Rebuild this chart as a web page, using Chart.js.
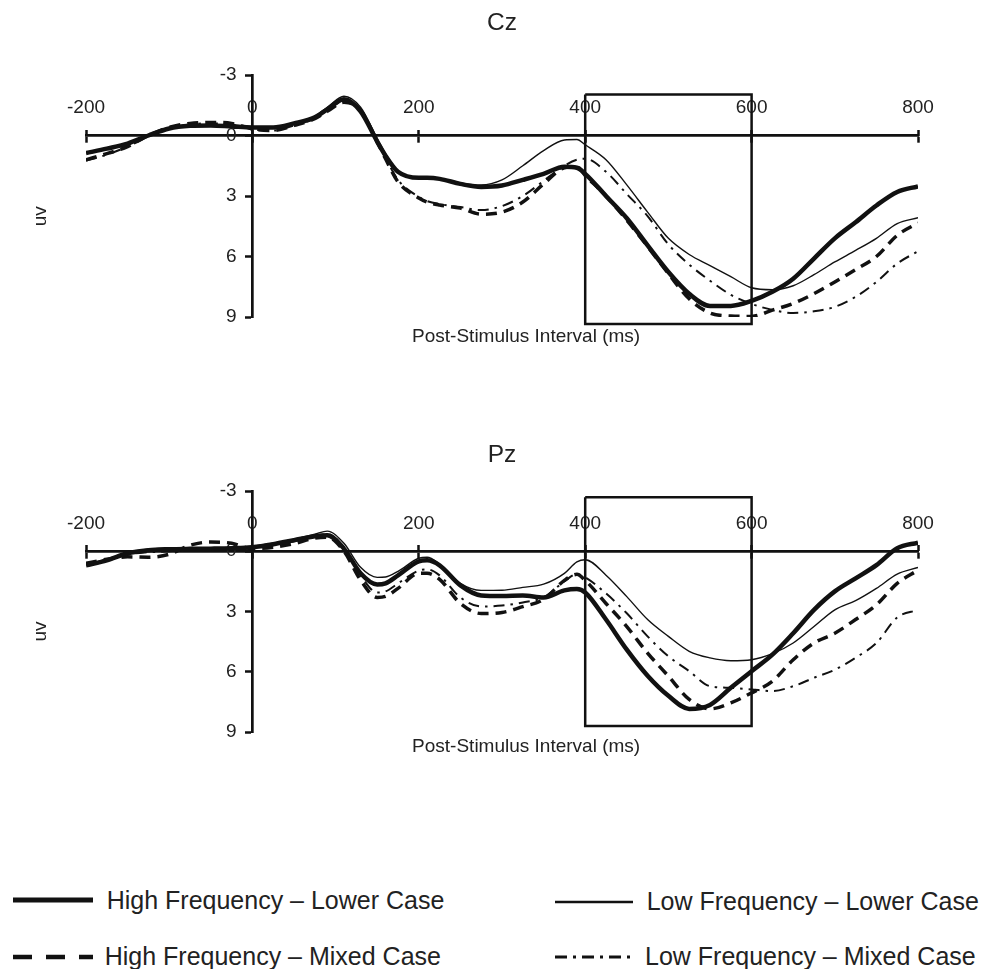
<!DOCTYPE html>
<html>
<head>
<meta charset="utf-8">
<title>Cz / Pz waveforms</title>
<script src="https://cdn.jsdelivr.net/npm/chart.js@4.4.1/dist/chart.umd.min.js"></script>
<style>
  html, body { margin: 0; padding: 0; background: #fff; }
  body { width: 995px; height: 969px; position: relative; overflow: hidden;
         font-family: "Liberation Sans", Arial, Helvetica, sans-serif; color: #222; }
  canvas { position: absolute; left: 31px; }
  #czChart { top: 0; }
  #pzChart { top: 416px; }
  .key { position: absolute; display: flex; align-items: center; font-size: 25px; line-height: 1; white-space: nowrap; }
  .key svg { display: block; }
</style>
</head>
<body>
<canvas id="czChart" width="964" height="360"></canvas>
<canvas id="pzChart" width="964" height="360"></canvas>
<div id="legend"></div>

<script>
// ===== data (ms / uV) =====
const times = [-200, -175, -150, -125, -100, -75, -50, -25, 0, 25, 50, 75,
  90, 110, 130, 150, 160, 175,
  200, 210, 225, 250, 275, 300, 325, 350, 375, 390, 400,
  425, 450, 475, 500, 525, 550, 575, 600, 625, 650, 675, 700, 725, 750, 775, 800];

const seriesNames = ['High Frequency – Lower Case', 'Low Frequency – Lower Case',
  'High Frequency – Mixed Case', 'Low Frequency – Mixed Case'];

// Cz
const czHighLower = [0.87, 0.65, 0.4, 0.0, -0.35, -0.48, -0.5, -0.45, -0.4, -0.4, -0.6, -0.9,
  -1.3, -1.8, -1.2, 0.3, 1.0, 1.8,
  2.1, 2.1, 2.15, 2.4, 2.55, 2.48, 2.2, 1.9, 1.55, 1.6, 1.9,
  3.0, 4.1, 5.45, 6.77, 7.85, 8.45, 8.45, 8.2, 7.75, 7.1, 6.1, 5.1, 4.3, 3.47, 2.8, 2.52];
const czLowLower = [0.85, 0.62, 0.38, 0.0, -0.35, -0.48, -0.5, -0.45, -0.4, -0.4, -0.62, -0.95,
  -1.4, -1.95, -1.4, 0.15, 0.9, 1.75,
  2.1, 2.1, 2.15, 2.35, 2.45, 2.2, 1.5, 0.75, 0.22, 0.2, 0.46,
  1.2, 2.45, 3.8, 5.1, 5.9, 6.45, 7.0, 7.55, 7.65, 7.45, 6.9, 6.27, 5.7, 5.1, 4.37, 4.08];
const czHighMixed = [1.2, 0.9, 0.55, 0.0, -0.4, -0.6, -0.65, -0.6, -0.33, -0.25, -0.5, -0.83,
  -1.2, -1.65, -1.25, 0.33, 1.15, 2.3,
  3.1, 3.3, 3.45, 3.6, 3.9, 3.8, 3.3, 2.4, 1.6, 1.55, 1.98,
  3.0, 4.2, 5.5, 6.85, 8.1, 8.8, 8.95, 8.97, 8.66, 8.33, 7.84, 7.26, 6.65, 6.0, 4.95, 4.34];
const czLowMixed = [1.25, 0.95, 0.55, 0.05, -0.35, -0.55, -0.6, -0.55, -0.3, -0.25, -0.5, -0.85,
  -1.25, -1.7, -1.3, 0.3, 1.1, 2.2,
  3.05, 3.25, 3.4, 3.55, 3.7, 3.5, 3.0, 2.25, 1.5, 1.2, 1.15,
  1.8, 2.9, 4.0, 5.4, 6.4, 7.2, 7.9, 8.35, 8.65, 8.8, 8.72, 8.5, 8.0, 7.26, 6.35, 5.74];

// Pz
const pzHighLower = [0.7, 0.45, 0.1, -0.05, -0.1, -0.12, -0.13, -0.15, -0.2, -0.35, -0.55, -0.75,
  -0.8, -0.13, 1.1, 1.66, 1.6, 1.2,
  0.5, 0.45, 0.7, 1.7, 2.2, 2.23, 2.2, 2.3, 1.95, 1.88, 2.05,
  3.4, 4.9, 6.2, 7.2, 7.85, 7.65, 6.8, 5.97, 5.15, 4.08, 2.92, 2.0, 1.35, 0.69, -0.15, -0.43];
const pzLowLower = [0.65, 0.4, 0.05, -0.1, -0.15, -0.15, -0.15, -0.18, -0.25, -0.4, -0.6, -0.85,
  -1.0, -0.4, 0.8, 1.3, 1.28, 1.0,
  0.35, 0.3, 0.65, 1.6, 1.95, 1.94, 1.8, 1.64, 1.1, 0.53, 0.42,
  1.19, 2.26, 3.4, 4.24, 4.98, 5.31, 5.45, 5.4, 5.1, 4.57, 3.75, 2.92, 2.46, 1.85, 1.14, 0.81];
const pzHighMixed = [0.6, 0.4, 0.28, 0.3, 0.15, -0.3, -0.46, -0.4, -0.13, -0.2, -0.38, -0.65,
  -0.7, 0.0, 1.43, 2.3, 2.25, 1.85,
  1.1, 1.1, 1.4, 2.6, 3.1, 3.05, 2.76, 2.4, 1.45, 1.15, 1.45,
  2.6, 3.75, 5.07, 6.22, 7.38, 7.85, 7.55, 7.05, 6.47, 5.4, 4.57, 4.08, 3.4, 2.67, 1.6, 0.94];
const pzLowMixed = [0.65, 0.4, 0.15, 0.05, 0.0, -0.1, -0.15, -0.15, -0.15, -0.3, -0.5, -0.75,
  -0.85, -0.2, 1.2, 2.05, 2.0, 1.6,
  0.96, 0.9, 1.2, 2.3, 2.75, 2.7, 2.55, 2.3, 1.5, 1.14, 1.3,
  2.1, 3.09, 4.24, 5.23, 5.97, 6.72, 6.8, 6.88, 6.96, 6.72, 6.3, 5.9, 5.3, 4.57, 3.3, 2.92];

// analysis window (ms) and the extent of its frame (uV)
const windowMs = [400, 600];
const czWindowUv = [-2.03, 9.35];
const pzWindowUv = [-2.69, 8.7];

// axes
const xRange = [-200, 800];
const xStep = 200;
const yRange = [-3, 9];
const yStep = 3;

// ===== styles =====
const INK = '#111';
const FONT = '"Liberation Sans", Arial, Helvetica, sans-serif';
const lineStyles = [
  { width: 4.5, dash: [] },
  { width: 1.4, dash: [] },
  { width: 3.5, dash: [11, 7] },
  { width: 2, dash: [11, 6, 2.5, 6] }
];

// axis captions drawn against the chart's own scales
const axisCaptions = {
  id: 'axisCaptions',
  afterDraw(chart, args, o) {
    const { ctx, chartArea, scales } = chart;
    ctx.save();
    ctx.fillStyle = '#222';
    ctx.font = '19px ' + FONT;
    ctx.textAlign = 'center';
    ctx.textBaseline = 'middle';
    ctx.fillText(o.xText, scales.x.getPixelForValue(o.xAt[0]), scales.y.getPixelForValue(o.xAt[1]));
    ctx.translate(chartArea.left - 45, scales.y.getPixelForValue(o.yAt));
    ctx.rotate(-Math.PI / 2);
    ctx.fillText(o.yText, 0, 0);
    ctx.restore();
  }
};

function buildPanel(canvasId, title, series, frame, titlePad, captionAt, bottomPad) {
  const datasets = series.map((values, i) => ({
    label: seriesNames[i],
    data: times.map((t, k) => ({ x: t, y: values[k] })),
    borderColor: INK,
    borderWidth: lineStyles[i].width,
    borderDash: lineStyles[i].dash,
    pointRadius: 0,
    cubicInterpolationMode: 'monotone',
    fill: false
  }));
  // the 400-600 ms frame
  datasets.push({
    label: 'window',
    data: [
      { x: windowMs[0], y: frame[0] }, { x: windowMs[1], y: frame[0] },
      { x: windowMs[1], y: frame[1] }, { x: windowMs[0], y: frame[1] },
      { x: windowMs[0], y: frame[0] }
    ],
    borderColor: INK,
    borderWidth: 2.5,
    borderJoinStyle: 'miter',
    pointRadius: 0,
    tension: 0,
    clip: false,
    fill: false
  });

  return new Chart(document.getElementById(canvasId), {
    type: 'line',
    data: { datasets },
    plugins: [axisCaptions],
    options: {
      responsive: false,
      animation: false,
      events: [],
      layout: { padding: { left: 55, right: 77, top: 0, bottom: bottomPad } },
      scales: {
        x: {
          type: 'linear', min: xRange[0], max: xRange[1],
          position: { y: 0 },
          ticks: { stepSize: xStep, padding: -44.8, color: '#222', font: { family: FONT, size: 19 }, maxRotation: 0, autoSkip: false },
          grid: { drawOnChartArea: false, tickLength: 6, tickWidth: 2.5, tickColor: INK },
          border: { color: INK, width: 2.7 }
        },
        x2: {
          type: 'linear', min: xRange[0], max: xRange[1],
          position: { y: 0 },
          ticks: { stepSize: xStep, display: false },
          grid: { drawOnChartArea: false, tickLength: -6, tickWidth: 2.5, tickColor: INK },
          border: { display: false }
        },
        y: {
          type: 'linear', min: yRange[0], max: yRange[1], reverse: true,
          position: { x: 0 },
          ticks: { stepSize: yStep, color: '#222', font: { family: FONT, size: 19 }, callback: v => v + '   ' },
          grid: { drawOnChartArea: false, tickLength: 6, tickWidth: 2.5, tickColor: INK },
          border: { color: INK, width: 2.7 }
        }
      },
      plugins: {
        legend: { display: false },
        tooltip: { enabled: false },
        title: {
          display: true, text: title, color: '#222',
          font: { family: FONT, size: 24.5, weight: 'normal' },
          padding: titlePad
        },
        axisCaptions: { xText: 'Post-Stimulus Interval (ms)', xAt: captionAt, yText: 'uv', yAt: 4 }
      }
    }
  });
}

buildPanel('czChart', 'Cz', [czHighLower, czLowLower, czHighMixed, czLowMixed], czWindowUv,
  { top: 8.8, bottom: 36.8 }, [329, 9.97], 43);
buildPanel('pzChart', 'Pz', [pzHighLower, pzLowLower, pzHighMixed, pzLowMixed], pzWindowUv,
  { top: 24.3, bottom: 21.3 }, [329, 9.74], 44);

// ===== legend (two columns, two rows) =====
const legendSlots = [
  { left: 12.7, top: 887.5, w: 80, gap: 14 },
  { left: 555, top: 889, w: 78, gap: 13.7 },
  { left: 12.7, top: 944, w: 80, gap: 12 },
  { left: 555, top: 944, w: 78, gap: 12 }
];
const legendStroke = [
  { width: 5, dash: '' },
  { width: 2.5, dash: '' },
  { width: 4.5, dash: '19 14' },
  { width: 3, dash: '12 6 3 6' }
];
const legendEl = document.getElementById('legend');
seriesNames.forEach((name, i) => {
  const s = legendSlots[i], st = legendStroke[i];
  const item = document.createElement('div');
  item.className = 'key';
  item.style.left = s.left + 'px';
  item.style.top = s.top + 'px';
  item.innerHTML =
    '<svg width="' + s.w + '" height="12" style="margin-right:' + s.gap + 'px">' +
    '<line x1="0" y1="6" x2="' + s.w + '" y2="6" stroke="' + INK + '" stroke-width="' + st.width + '"' +
    (st.dash ? ' stroke-dasharray="' + st.dash + '"' : '') + '/></svg>' +
    '<span>' + name + '</span>';
  legendEl.appendChild(item);
});
</script>
</body>
</html>
